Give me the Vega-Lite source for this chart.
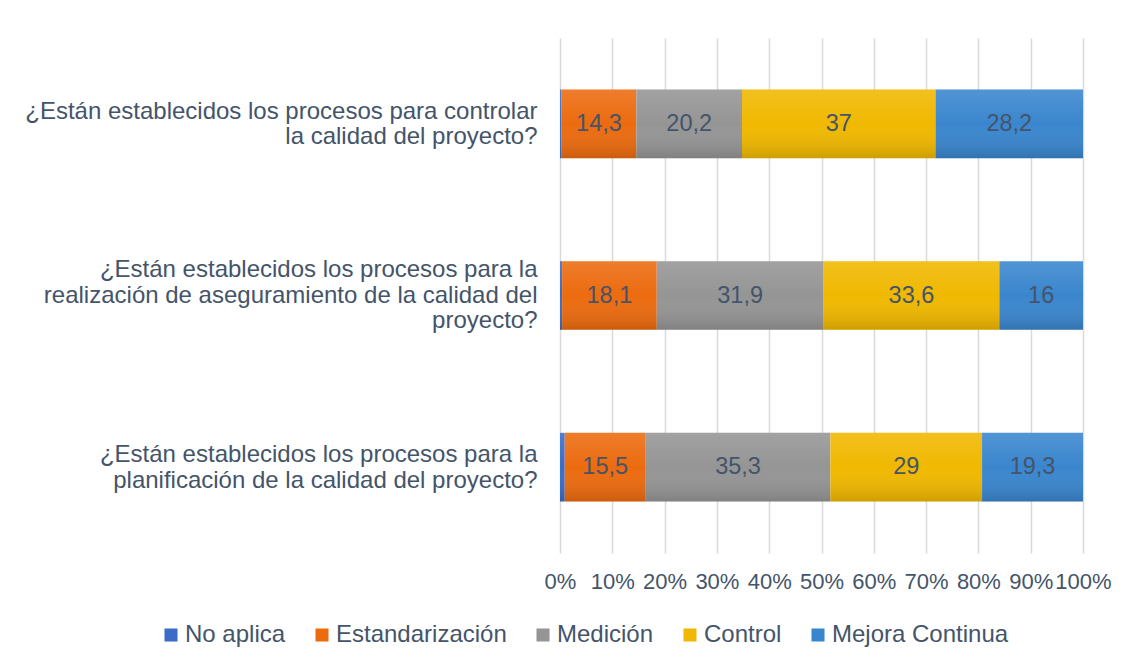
{
  "$schema": "https://vega.github.io/schema/vega-lite/v6.json",
  "width": 523,
  "height": 515,
  "autosize": {"type": "none"},
  "padding": {"left": 560, "top": 38, "right": 50, "bottom": 112},
  "background": "white",
  "config": {
    "view": {"stroke": null},
    "locale": {"number": {"decimal": ",", "thousands": ".", "grouping": [3], "currency": ["", " €"]}},
    "font": "Liberation Sans",
    "axis": {"labelFont": "Liberation Sans", "labelColor": "#44546A", "labelFontSize": 24, "domain": false, "ticks": false, "title": null},
    "legend": {"labelFont": "Liberation Sans", "labelColor": "#44546A", "labelFontSize": 24, "labelLimit": 400}
  },
  "data": {
    "values": [
      {"pregunta": "¿Están establecidos los procesos para controlar|la calidad del proyecto?", "serie": "No aplica", "valor": 0.3},
      {"pregunta": "¿Están establecidos los procesos para controlar|la calidad del proyecto?", "serie": "Estandarización", "valor": 14.3},
      {"pregunta": "¿Están establecidos los procesos para controlar|la calidad del proyecto?", "serie": "Medición", "valor": 20.2},
      {"pregunta": "¿Están establecidos los procesos para controlar|la calidad del proyecto?", "serie": "Control", "valor": 37},
      {"pregunta": "¿Están establecidos los procesos para controlar|la calidad del proyecto?", "serie": "Mejora Continua", "valor": 28.2},
      {"pregunta": "¿Están establecidos los procesos para la|realización de aseguramiento de la calidad del|proyecto?", "serie": "No aplica", "valor": 0.4},
      {"pregunta": "¿Están establecidos los procesos para la|realización de aseguramiento de la calidad del|proyecto?", "serie": "Estandarización", "valor": 18.1},
      {"pregunta": "¿Están establecidos los procesos para la|realización de aseguramiento de la calidad del|proyecto?", "serie": "Medición", "valor": 31.9},
      {"pregunta": "¿Están establecidos los procesos para la|realización de aseguramiento de la calidad del|proyecto?", "serie": "Control", "valor": 33.6},
      {"pregunta": "¿Están establecidos los procesos para la|realización de aseguramiento de la calidad del|proyecto?", "serie": "Mejora Continua", "valor": 16},
      {"pregunta": "¿Están establecidos los procesos para la|planificación de la calidad del proyecto?", "serie": "No aplica", "valor": 0.9},
      {"pregunta": "¿Están establecidos los procesos para la|planificación de la calidad del proyecto?", "serie": "Estandarización", "valor": 15.5},
      {"pregunta": "¿Están establecidos los procesos para la|planificación de la calidad del proyecto?", "serie": "Medición", "valor": 35.3},
      {"pregunta": "¿Están establecidos los procesos para la|planificación de la calidad del proyecto?", "serie": "Control", "valor": 29},
      {"pregunta": "¿Están establecidos los procesos para la|planificación de la calidad del proyecto?", "serie": "Mejora Continua", "valor": 19.3}
    ]
  },
  "transform": [
    {"window": [{"op": "row_number", "as": "orden"}], "groupby": ["pregunta"]}
  ],
  "encoding": {
    "y": {
      "field": "pregunta", "type": "nominal", "sort": null,
      "scale": {"paddingInner": 0.6, "paddingOuter": 0.3},
      "axis": {
        "labelExpr": "split(datum.label, '|')", "labelPadding": 23, "labelLineHeight": 25.5, "labelLimit": 700,
        "labelOffset": {"condition": {"test": "indexof(datum.value, 'aseguramiento') >= 0", "value": -25.5}, "value": -12}
      }
    },
    "x": {
      "field": "valor", "type": "quantitative", "stack": "normalize",
      "scale": {"domain": [0, 1], "nice": false},
      "axis": {"format": "%", "values": [0, 0.1, 0.2, 0.3, 0.4, 0.5, 0.6, 0.7, 0.8, 0.9, 1], "gridColor": "#D9D9D9", "gridWidth": 1.5, "labelPadding": 18, "labelFlush": false, "labelFontSize": 22, "labelOverlap": false}
    },
    "order": {"field": "orden", "type": "quantitative"},
    "detail": {"field": "serie", "type": "nominal"}
  },
  "layer": [
    {
      "mark": {"type": "bar"},
      "encoding": {
        "color": {
          "field": "serie", "type": "nominal",
          "sort": ["No aplica", "Estandarización", "Medición", "Control", "Mejora Continua"],
          "scale": {
            "domain": ["No aplica", "Estandarización", "Medición", "Control", "Mejora Continua"],
            "range": ["#3A6CC8", "#EC6B0F", "#959595", "#F0B800", "#3A86CE"]
          },
          "legend": {
            "title": null, "orient": "none", "direction": "horizontal",
            "legendX": -401, "legendY": 585,
            "symbolType": "square", "symbolSize": 170, "symbolStrokeWidth": 0, "symbolOpacity": 1,
            "columnPadding": 24, "labelOffset": 2, "padding": 0
          }
        }
      }
    },
    {
      "mark": {
        "type": "bar",
        "color": {"gradient": "linear", "x1": 0, "y1": 0, "x2": 0, "y2": 1, "stops": [{"offset": 0, "color": "rgba(255,255,255,0.12)"}, {"offset": 0.5, "color": "rgba(255,255,255,0)"}, {"offset": 1, "color": "rgba(0,0,0,0.14)"}]}
      }
    },
    {
      "mark": {"type": "text", "fontSize": 23.5, "color": "#44546A", "font": "Liberation Sans", "baseline": "middle"},
      "encoding": {
        "x": {"field": "valor", "type": "quantitative", "stack": "normalize", "bandPosition": 0.5},
        "text": {
          "condition": {"test": "datum.serie === 'No aplica'", "value": ""},
          "field": "valor", "type": "quantitative", "format": "~g"
        }
      }
    }
  ]
}
